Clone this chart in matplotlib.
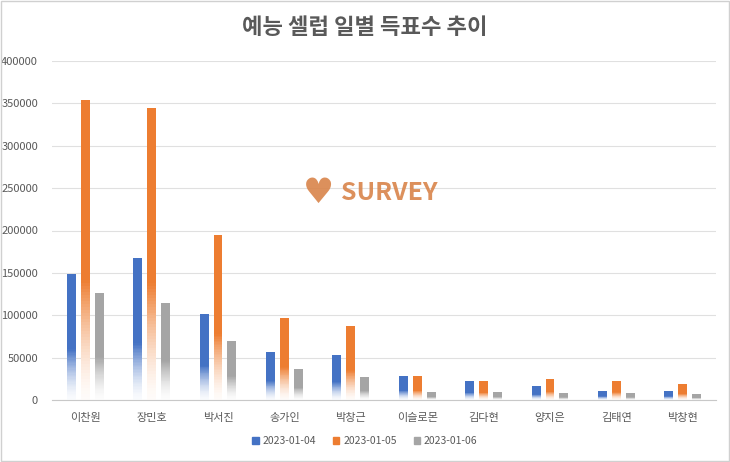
import numpy as np
import matplotlib
matplotlib.use("Agg")
import matplotlib.pyplot as plt
from matplotlib.colors import to_rgb
from matplotlib.patches import Rectangle

plt.rcParams['font.family'] = ['Noto Sans CJK KR', 'DejaVu Sans']

names = ["이찬원", "장민호", "박서진", "송가인", "박창근", "이슬로몬", "김다현", "양지은", "김태연", "박창현"]
dates = ["2023-01-04", "2023-01-05", "2023-01-06"]
day1 = [149000, 167000, 101000, 57000, 53000, 28000, 22000, 16500, 11000, 11000]
day2 = [354000, 344000, 195000, 97000, 87000, 28000, 22000, 25000, 23000, 18500]
day3 = [126000, 115000, 70000, 36500, 27500, 9000, 9000, 8000, 8000, 7000]
colors = ["#4472C4", "#ED7D31", "#A5A5A5"]

fig = plt.figure(figsize=(7.3, 4.62), dpi=100)
fig.patches.append(Rectangle((0.002, 0.002), 0.996, 0.996, transform=fig.transFigure,
                             fill=False, edgecolor="#D0D0D0", lw=1))
ax = fig.add_axes([52/730, 1-400/462, 664/730, 339/462])

x = np.arange(len(names))
w = 0.135
pitch = 0.21
nseg = 40
fade = 0.4  # bottom share of each bar that fades to white
t = (np.arange(nseg) + 0.5) / nseg
mix = 0.03 + 0.97 * t ** 1.6

for i, (vals, c) in enumerate(zip([day1, day2, day3], colors)):
    vals = np.array(vals, dtype=float)
    rgb = np.array(to_rgb(c))
    xs = x + (i - 1) * pitch
    # solid upper part
    ax.bar(xs, vals * (1 - fade), w, bottom=vals * fade, color=c, lw=0, zorder=2)
    # fading lower part
    seg = vals * fade / nseg
    for k in range(nseg):
        col = (1 - mix[k]) + mix[k] * rgb
        ax.bar(xs, seg * 1.02, w, bottom=seg * k, color=col, lw=0, zorder=2,
               antialiased=False)

ax.set_xlim(-0.5, len(names) - 0.5)
ax.set_ylim(0, 400000)
ax.set_yticks(np.arange(0, 400001, 50000))
ax.set_xticks(x)
ax.set_xticklabels(names)
ax.yaxis.grid(True, color="#E0E0E0", lw=0.8)
ax.set_axisbelow(True)
for s in ["top", "right", "left"]:
    ax.spines[s].set_visible(False)
ax.spines["bottom"].set_color("#C8C8C8")
ax.spines["bottom"].set_zorder(3)
ax.tick_params(axis="both", length=0, colors="#595959", labelsize=8)
ax.tick_params(axis="x", pad=9)
ax.tick_params(axis="y", pad=10)

handles = [Rectangle((0, 0), 1, 1, color=c) for c in colors]
fig.legend(handles, dates, loc="center", bbox_to_anchor=(365/730, 1-441/462), ncol=3,
           frameon=False, fontsize=7.5, handlelength=0.6, handleheight=0.6,
           columnspacing=1.6, handletextpad=0.4, labelcolor="#595959")

fig.text(365/730, 1-28/462, "예능 셀럽 일별 득표수 추이", ha="center", va="center",
         fontsize=16, fontweight="bold", color="#595959")

# watermark
fig.text(318/730, 1-193/462, "♥", ha="center", va="center", fontsize=25,
         color="#D9844A", alpha=0.9, family=["DejaVu Sans"])
fig.text(389/730, 1-193/462, "SURVEY", ha="center", va="center", fontsize=18,
         fontweight="heavy", color="#D9844A", alpha=0.9)

fig.savefig("out.png", dpi=100)
